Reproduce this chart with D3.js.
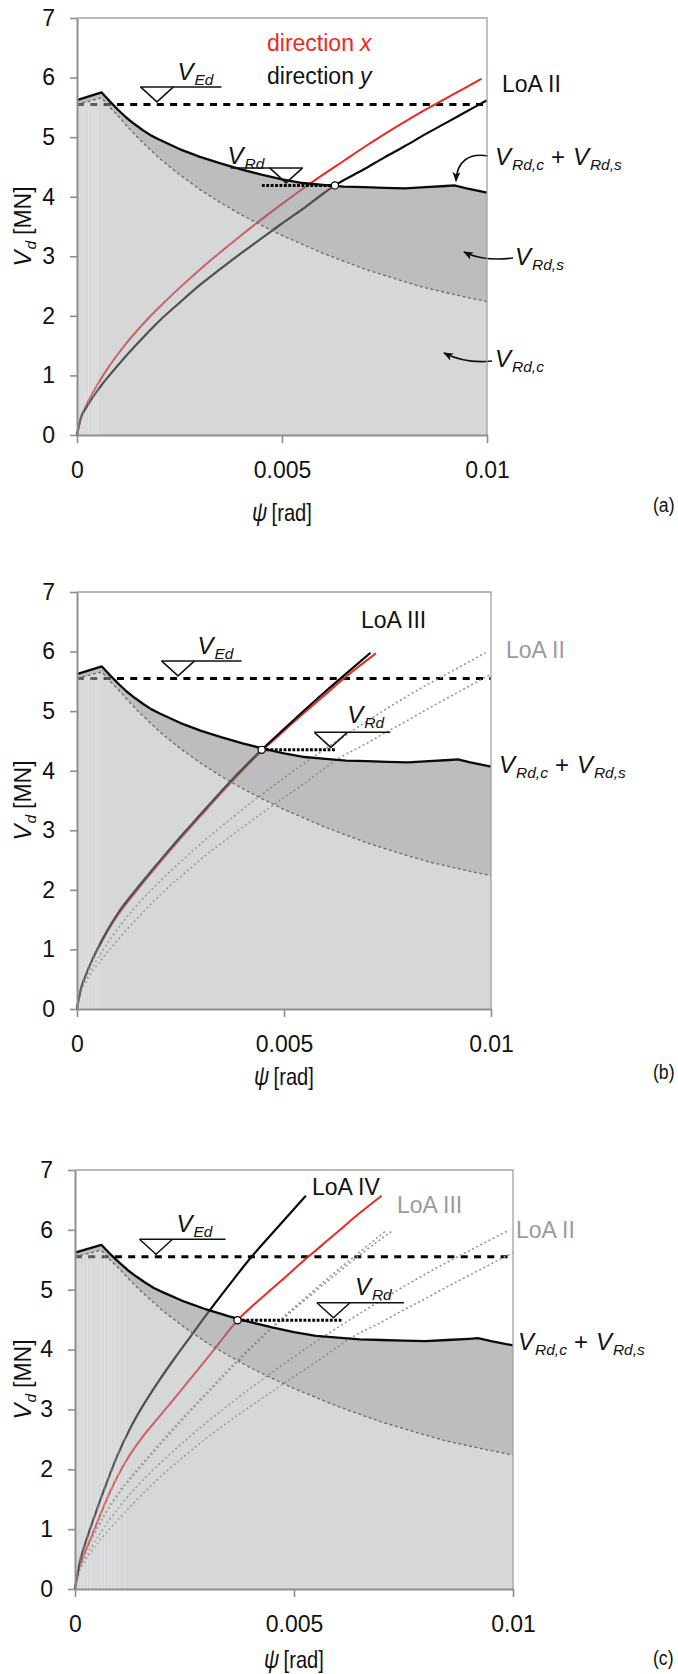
<!DOCTYPE html>
<html><head><meta charset="utf-8">
<script src="https://cdn.jsdelivr.net/npm/d3@7"></script>
<style>
body{margin:0;background:#fff;}
svg text{font-family:"Liberation Sans",Arial,Helvetica,sans-serif;}
</style></head><body>
<svg id="chart" width="678" height="1674"></svg>
<script>
// ---------------- DATA ----------------
const psiTicks = [0, 0.005, 0.01];
const psiTickLabels = ["0", "0.005", "0.01"];
const vTicks = [0, 1, 2, 3, 4, 5, 6, 7];
const VEd = 5.55;

// V_Rd,c + V_Rd,s  [psi (rad), V (MN)]
const resistanceTotal = [[0,5.62],[0.0006,5.75],[0.0008,5.60],[0.001,5.46],[0.0012,5.33],[0.0014,5.22],[0.0016,5.12],[0.0018,5.03],[0.002,4.96],[0.0025,4.80],[0.003,4.67],[0.0035,4.56],[0.004,4.46],[0.0045,4.37],[0.005,4.29],[0.0055,4.23],[0.006,4.20],[0.0065,4.17],[0.007,4.16],[0.0075,4.15],[0.008,4.14],[0.0085,4.16],[0.009,4.18],[0.0092,4.19],[0.0095,4.14],[0.01,4.07]];
// V_Rd,c
const resistanceConcrete = [[0,5.55],[0.0006,5.66],[0.0008,5.50],[0.001,5.36],[0.0012,5.20],[0.0015,4.98],[0.002,4.65],[0.0025,4.37],[0.003,4.12],[0.0035,3.90],[0.004,3.70],[0.0045,3.52],[0.005,3.35],[0.0055,3.20],[0.006,3.05],[0.0065,2.92],[0.007,2.79],[0.0075,2.68],[0.008,2.57],[0.0085,2.47],[0.009,2.39],[0.0095,2.31],[0.01,2.24]];

// Load-rotation curves
const loa2DirX = [[0,0],[0.0001,0.30],[0.0002,0.46],[0.0004,0.73],[0.0006,0.96],[0.0008,1.17],[0.001,1.36],[0.0012,1.54],[0.0014,1.70],[0.0017,1.93],[0.002,2.14],[0.0025,2.47],[0.003,2.78],[0.0035,3.07],[0.004,3.35],[0.0045,3.62],[0.005,3.88],[0.0055,4.13],[0.006,4.37],[0.0065,4.60],[0.007,4.83],[0.0075,5.05],[0.008,5.26],[0.0085,5.46],[0.009,5.65],[0.0095,5.84],[0.00987,5.98]];
const loa2DirY = [[0,0],[0.0001,0.30],[0.0002,0.43],[0.0004,0.65],[0.0006,0.84],[0.0008,1.01],[0.001,1.17],[0.0012,1.33],[0.0014,1.48],[0.0017,1.70],[0.002,1.91],[0.0025,2.22],[0.003,2.52],[0.0035,2.79],[0.0039,3.00],[0.0045,3.30],[0.005,3.55],[0.0055,3.79],[0.006,4.05],[0.00629,4.19],[0.007,4.46],[0.0075,4.66],[0.008,4.85],[0.0085,5.05],[0.009,5.24],[0.0095,5.43],[0.01,5.62]];
const loa3DirX = [[0,0],[0.0001,0.35],[0.0002,0.54],[0.0003,0.71],[0.0005,1.00],[0.0007,1.26],[0.001,1.59],[0.0014,1.95],[0.0018,2.29],[0.0022,2.62],[0.0026,2.94],[0.003,3.25],[0.0034,3.56],[0.0038,3.86],[0.00446,4.33],[0.005,4.67],[0.0055,4.98],[0.006,5.28],[0.0065,5.58],[0.00722,5.97]];
const loa3DirY = [[0,0],[0.0001,0.36],[0.0002,0.55],[0.0003,0.72],[0.0005,1.02],[0.0007,1.28],[0.001,1.62],[0.0014,1.98],[0.0018,2.32],[0.0022,2.65],[0.0026,2.97],[0.003,3.28],[0.0034,3.59],[0.0038,3.89],[0.00446,4.35],[0.005,4.70],[0.0055,5.02],[0.006,5.33],[0.0065,5.63],[0.00709,5.98]];
const loa4DirX = [[0,0],[0.0001,0.36],[0.0002,0.56],[0.0004,0.92],[0.0006,1.28],[0.0008,1.62],[0.001,1.92],[0.0012,2.18],[0.0015,2.50],[0.0019,2.86],[0.0023,3.21],[0.0027,3.57],[0.00312,3.95],[0.0034,4.21],[0.00371,4.49],[0.0041,4.76],[0.00449,5.01],[0.0048,5.21],[0.0052,5.47],[0.0056,5.72],[0.006,5.97],[0.0065,6.28],[0.007,6.57]];
const loa4DirY = [[0,0],[0.0001,0.42],[0.00026,0.82],[0.0004,1.12],[0.00066,1.65],[0.00095,2.20],[0.00125,2.67],[0.0015,3.00],[0.0019,3.46],[0.0023,3.88],[0.00259,4.17],[0.00304,4.62],[0.0035,5.06],[0.00403,5.55],[0.0045,5.94],[0.005,6.35],[0.00527,6.57]];

// design points (intersection with resistance) and V_Rd level segments
const designPointA = [0.00629, 4.19];
const designPointB = [0.00446, 4.35];
const designPointC = [0.00371, 4.49];
const vRdSegmentA = [0.00451, 0.00629];
const vRdSegmentB = [0.00446, 0.00623];
const vRdSegmentC = [0.00371, 0.00609];

// faint hatching near the origin
const stripesAB = [0.00005, 0.0001, 0.00016, 0.00022, 0.00028, 0.00034, 0.0004, 0.00046, 0.00051];
const stripesC = [0.00005, 0.00012, 0.0002, 0.00028, 0.00036, 0.00044, 0.00052, 0.0006, 0.00068, 0.00076, 0.00084, 0.00092, 0.001, 0.00114];

// ---------------- DRAWING ----------------
const svg = d3.select('#chart');
const defs = svg.append('defs');
defs.append('marker').attr('id','arrowhead')
  .attr('viewBox','0 0 10 8').attr('refX',9).attr('refY',4)
  .attr('markerWidth',10).attr('markerHeight',8)
  .attr('markerUnits','userSpaceOnUse').attr('orient','auto')
  .append('path').attr('d','M0,0 L10,4 L0,8 L2.5,4 Z').attr('fill','#111');

const RED = '#ea2a22', GRAY_TXT = '#9b9b9b';

function richText(g, x, y, parts, color, anchor) {
  const t = g.append('text').attr('x', x).attr('y', y).attr('fill', color || '#111');
  if (anchor) t.attr('text-anchor', anchor);
  let shift = 0;
  parts.forEach(p => {
    const ts = t.append('tspan').text(p.t).attr('font-size', p.sub ? 15.5 : (p.size || 24));
    if (p.italic) ts.attr('font-style', 'italic');
    const target = p.sub ? 5 : 0;
    if (target !== shift) { ts.attr('dy', target - shift); shift = target; }
    if (p.dx) ts.attr('dx', p.dx);
  });
  return t;
}
const totalLabelParts = [
  {t:'V', italic:true}, {t:'Rd,c', italic:true, sub:true, dx:1},
  {t:'+', size:24, dx:7}, {t:'V', italic:true, dx:8},
  {t:'Rd,s', italic:true, sub:true, dx:1}
];

const panels = [
  { key:'a', left:77, top:18, width:410, height:417,
    curves:[{data:loa2DirX, kind:'red'}, {data:loa2DirY, kind:'black'}],
    point:designPointA, seg:vRdSegmentA, stripes:stripesAB,
    ed:{psi:0.00195, len:81, side:'left', ldx:37, ldy:-7},
    rd:{psi:0.0051, len:72, side:'right', ldx:-3, ldy:-4},
    texts:[
      {x:190, y:33, color:RED, parts:[{t:'direction', size:23},{t:'x', size:23, italic:true, dx:6}]},
      {x:190, y:66, color:'#111', parts:[{t:'direction', size:23},{t:'y', size:23, italic:true, dx:6}]},
      {x:425, y:74, color:'#111', parts:[{t:'LoA II', size:23}]},
      {x:418, y:147, color:'#111', parts:totalLabelParts},
      {x:438, y:247, color:'#111', parts:[{t:'V', italic:true},{t:'Rd,s', italic:true, sub:true, dx:1}]},
      {x:418, y:349, color:'#111', parts:[{t:'V', italic:true},{t:'Rd,c', italic:true, sub:true, dx:1}]}
    ],
    arrows:['M411,138 C393,135 380,142 379,163','M436,240 C420,242 401,241 387,234','M415,343 C397,345 381,342 367,335'],
    caption:'(a)', captionY:512, xLabelY:521 },
  { key:'b', left:77, top:592, width:414, height:417,
    curves:[{data:loa2DirX, kind:'dot'}, {data:loa2DirY, kind:'dot'}, {data:loa3DirX, kind:'red'}, {data:loa3DirY, kind:'black'}],
    point:designPointB, seg:vRdSegmentB, stripes:stripesAB,
    ed:{psi:0.00244, len:80, side:'left', ldx:36, ldy:-7},
    rd:{psi:0.00613, len:76, side:'left', ldx:33, ldy:-9},
    texts:[
      {x:284, y:36, color:'#111', parts:[{t:'LoA III', size:23}]},
      {x:429, y:66, color:GRAY_TXT, parts:[{t:'LoA II', size:23}]},
      {x:422, y:181, color:'#111', parts:totalLabelParts}
    ],
    arrows:[], caption:'(b)', captionY:1079, xLabelY:1085 },
  { key:'c', left:75, top:1170, width:438, height:419,
    curves:[{data:loa2DirX, kind:'dot'}, {data:loa2DirY, kind:'dot'}, {data:loa3DirX, kind:'dot'}, {data:loa3DirY, kind:'dot'}, {data:loa4DirX, kind:'red'}, {data:loa4DirY, kind:'black'}],
    point:designPointC, seg:vRdSegmentC, stripes:stripesC,
    ed:{psi:0.00185, len:86, side:'left', ldx:37, ldy:-7},
    rd:{psi:0.0059, len:87, side:'left', ldx:38, ldy:-8},
    texts:[
      {x:237, y:25, color:'#111', parts:[{t:'LoA IV', size:23}]},
      {x:322, y:43, color:GRAY_TXT, parts:[{t:'LoA III', size:23}]},
      {x:441, y:68, color:GRAY_TXT, parts:[{t:'LoA II', size:23}]},
      {x:443, y:180, color:'#111', parts:totalLabelParts}
    ],
    arrows:[], caption:'(c)', captionY:1665, xLabelY:1668 }
];

panels.forEach(P => {
  const x = d3.scaleLinear().domain([0, 0.01]).range([P.left, P.left + P.width]);
  const y = d3.scaleLinear().domain([0, 7]).range([P.top + P.height, P.top]);
  const g = svg.append('g').attr('class', 'panel-' + P.key);
  const line = d3.line().x(d => x(d[0])).y(d => y(d[1]));
  const smooth = d3.line().x(d => x(d[0])).y(d => y(d[1])).curve(d3.curveMonotoneX);
  const area = d3.area().x(d => x(d[0])).y0(y(0)).y1(d => y(d[1]));

  // 1. lines that lie beneath the translucent resistance fills
  g.append('line').attr('x1', x(0)).attr('x2', x(0.01)).attr('y1', y(VEd)).attr('y2', y(VEd))
    .attr('stroke', '#000').attr('stroke-width', 3).attr('stroke-dasharray', '7,6.3');
  P.curves.forEach(c => {
    const p = g.append('path').attr('d', smooth(c.data)).attr('fill', 'none').attr('stroke-linejoin', 'round');
    if (c.kind === 'red') p.attr('stroke', RED).attr('stroke-width', 2);
    else if (c.kind === 'black') p.attr('stroke', '#0a0a0a').attr('stroke-width', 2.2);
    else p.attr('stroke', '#959595').attr('stroke-width', 1.6).attr('stroke-dasharray', '2,2.6');
  });

  // 2. translucent fills
  g.append('path').attr('d', area(resistanceConcrete))
    .attr('fill', 'rgb(165,167,171)').attr('fill-opacity', 0.45);
  g.append('path').attr('d', area(resistanceTotal) + area(resistanceConcrete))
    .attr('fill-rule', 'evenodd').attr('fill', 'rgb(135,135,140)').attr('fill-opacity', 0.55);

  // hatching stripes
  const concreteAt = d3.scaleLinear().domain(resistanceConcrete.map(d => d[0])).range(resistanceConcrete.map(d => d[1]));
  g.selectAll('line.stripe').data(P.stripes).enter().append('line').attr('class', 'stripe')
    .attr('x1', d => x(d)).attr('x2', d => x(d)).attr('y1', y(0)).attr('y2', d => y(concreteAt(d)))
    .attr('stroke', '#ffffff').attr('stroke-opacity', 0.28).attr('stroke-width', 1);

  // 3. resistance curves
  g.append('path').attr('d', line(resistanceConcrete)).attr('fill', 'none')
    .attr('stroke', '#6a6a6a').attr('stroke-width', 1.3).attr('stroke-dasharray', '3,2.5');
  g.append('path').attr('d', line(resistanceTotal)).attr('fill', 'none')
    .attr('stroke', '#0a0a0a').attr('stroke-width', 2.3).attr('stroke-linejoin', 'round');

  // 4. V_Rd level and design point
  g.append('line').attr('x1', x(P.seg[0])).attr('x2', x(P.seg[1])).attr('y1', y(P.point[1])).attr('y2', y(P.point[1]))
    .attr('stroke', '#000').attr('stroke-width', 3).attr('stroke-dasharray', '2.8,1.6');
  g.append('circle').attr('cx', x(P.point[0])).attr('cy', y(P.point[1])).attr('r', 3.6)
    .attr('fill', '#fff').attr('stroke', '#000').attr('stroke-width', 1.2);

  // 5. level markers (V_Ed, V_Rd)
  function levelMarker(m, level, sub) {
    const ax = x(m.psi), ay = y(level) - 2.5, ly = ay - 15, hw = 16.5;
    const x0 = m.side === 'left' ? ax - hw : ax + hw - m.len;
    g.append('line').attr('x1', x0).attr('x2', x0 + m.len).attr('y1', ly).attr('y2', ly)
      .attr('stroke', '#111').attr('stroke-width', 1.5);
    g.append('path').attr('d', `M${ax - hw},${ly} L${ax},${ay} L${ax + hw},${ly}`)
      .attr('fill', 'none').attr('stroke', '#111').attr('stroke-width', 1.5).attr('stroke-linejoin', 'miter');
    richText(g, x0 + m.ldx, ly + m.ldy, [{t:'V', italic:true, size:24}, {t:sub, italic:true, sub:true, dx:1}]);
  }
  levelMarker(P.ed, VEd, 'Ed');
  levelMarker(P.rd, P.point[1], 'Rd');

  // 6. annotations
  P.texts.forEach(t => richText(g, P.left + t.x, P.top + t.y, t.parts, t.color));
  P.arrows.forEach(a => {
    g.append('path').attr('d', a).attr('transform', `translate(${P.left},${P.top})`)
      .attr('fill', 'none').attr('stroke', '#111').attr('stroke-width', 1.6).attr('marker-end', 'url(#arrowhead)');
  });

  // 7. frame and axes
  g.append('path').attr('d', `M${x(0)},${y(7)} H${x(0.01)} V${y(0)}`)
    .attr('fill', 'none').attr('stroke', '#a2a2a2').attr('stroke-width', 1.3);
  const xAxis = d3.axisBottom(x).tickValues(psiTicks).tickFormat((d, i) => psiTickLabels[i])
    .tickSize(8).tickSizeOuter(0).tickPadding(18.5);
  const yAxis = d3.axisLeft(y).tickValues(vTicks).tickFormat(d3.format('d'))
    .tickSize(7).tickSizeOuter(0).tickPadding(15);
  const gx = g.append('g').attr('transform', `translate(0,${y(0)})`).call(xAxis);
  const gy = g.append('g').attr('transform', `translate(${x(0)},0)`).call(yAxis);
  [gx, gy].forEach(a => {
    a.select('.domain').attr('stroke', '#8e8e8e').attr('stroke-width', 2);
    a.selectAll('.tick line').attr('stroke', '#8e8e8e').attr('stroke-width', 1.6);
    a.selectAll('.tick text').attr('font-size', 23).attr('fill', '#111')
      .attr('font-family', '"Liberation Sans",Arial,Helvetica,sans-serif');
  });

  // axis titles
  const cy = (y(0) + y(7)) / 2;
  richText(g, 0, 0, [{t:'V', italic:true, size:24}, {t:'d', italic:true, sub:true, dx:1}, {t:'[MN]', size:23, dx:6}], '#111', 'middle')
    .attr('transform', `translate(31,${cy}) rotate(-90)`);
  // condensed x-axis title and caption
  richText(g, 0, 0, [{t:'ψ', italic:true, size:25}, {t:'[rad]', size:24, dx:5}], '#111', 'middle')
    .attr('transform', `translate(${(x(0) + x(0.01)) / 2},${P.xLabelY}) scale(0.84,1)`);
  g.append('text').attr('x', 0).attr('y', 0).attr('font-size', 21)
    .attr('transform', `translate(653,${P.captionY}) scale(0.84,1)`)
    .attr('fill', '#111').text(P.caption);
});
</script>
</body></html>
